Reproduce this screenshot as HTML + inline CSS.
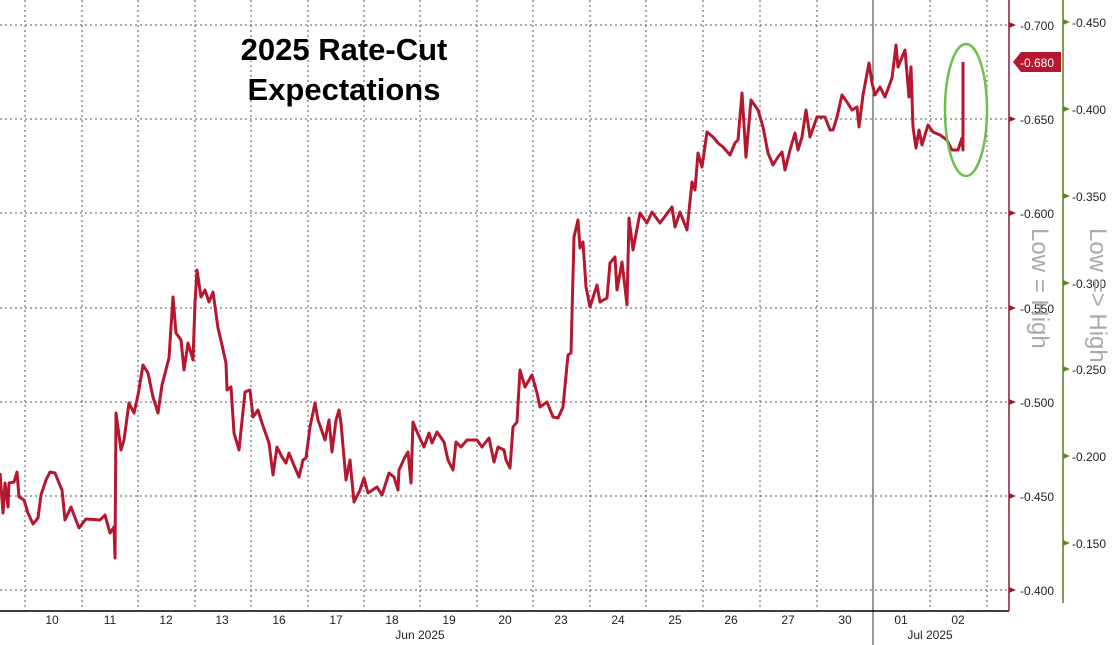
<!DOCTYPE html>
<html><head><meta charset="utf-8"><style>
body{margin:0;background:#fff;}
svg{display:block;font-family:"Liberation Sans",sans-serif;}
</style></head><body>
<svg width="1114" height="645" viewBox="0 0 1114 645" xmlns="http://www.w3.org/2000/svg">
<rect width="1114" height="645" fill="#fff"/>
<g stroke="#555" stroke-width="1" stroke-dasharray="2,3">
<line x1="0" y1="25" x2="1008" y2="25"/><line x1="0" y1="119" x2="1008" y2="119"/><line x1="0" y1="213" x2="1008" y2="213"/><line x1="0" y1="308" x2="1008" y2="308"/><line x1="0" y1="402" x2="1008" y2="402"/><line x1="0" y1="496" x2="1008" y2="496"/><line x1="0" y1="590" x2="1008" y2="590"/>
<line x1="25" y1="0" x2="25" y2="611"/><line x1="82" y1="0" x2="82" y2="611"/><line x1="138" y1="0" x2="138" y2="611"/><line x1="195" y1="0" x2="195" y2="611"/><line x1="251" y1="0" x2="251" y2="611"/><line x1="308" y1="0" x2="308" y2="611"/><line x1="364" y1="0" x2="364" y2="611"/><line x1="420" y1="0" x2="420" y2="611"/><line x1="477" y1="0" x2="477" y2="611"/><line x1="533" y1="0" x2="533" y2="611"/><line x1="590" y1="0" x2="590" y2="611"/><line x1="646" y1="0" x2="646" y2="611"/><line x1="703" y1="0" x2="703" y2="611"/><line x1="760" y1="0" x2="760" y2="611"/><line x1="817" y1="0" x2="817" y2="611"/><line x1="930" y1="0" x2="930" y2="611"/><line x1="987" y1="0" x2="987" y2="611"/>
</g>
<line x1="873" y1="0" x2="873" y2="645" stroke="#333" stroke-width="1"/>
<line x1="0" y1="611" x2="1009" y2="611" stroke="#000" stroke-width="1.5"/>
<line x1="1009" y1="0" x2="1009" y2="611" stroke="#8a1c33" stroke-width="1.5"/>
<line x1="1063" y1="0" x2="1063" y2="603" stroke="#5a7a1a" stroke-width="1.5"/>
<polyline fill="none" stroke="#b5172f" stroke-width="3" stroke-linejoin="round" points="0,473 3,513 5,483 8,507 9,483 14,482 17,472 19,497 24,500 28,513 33,524 38,518 41,495 46,480 50,472 55,473 59,483 62,490 65,520 71,507 74,515 79,528 86,519 100,520 105,515 110,533 114,527 115,558 116,413 121,450 124,440 129,403 134,413 138,395 143,365 148,373 153,397 158,413 162,385 169,358 173,297 176,333 181,340 184,370 188,343 193,360 195,303 197,270 201,297 205,290 209,302 213,292 218,328 222,345 226,363 227,390 231,387 234,433 239,450 245,392 250,390 253,417 258,410 262,423 269,443 273,475 277,447 282,457 286,463 289,453 293,463 299,477 303,460 306,458 310,427 315,403 318,420 325,440 329,420 332,452 336,420 339,410 341,423 346,480 350,460 354,502 360,490 364,478 368,493 377,487 382,495 389,473 394,477 398,490 399,470 405,457 408,452 411,483 413,422 417,432 424,447 429,433 432,443 437,432 444,442 448,460 453,470 456,442 461,447 467,440 477,440 482,447 489,438 494,462 498,447 504,450 506,460 510,468 513,427 517,422 520,370 525,387 532,375 537,393 540,407 547,402 553,417 558,418 563,407 568,355 571,353 574,237 578,220 580,248 583,242 586,287 590,307 597,285 600,302 607,298 610,263 615,257 617,290 622,262 627,305 629,218 633,250 640,213 647,223 652,212 660,223 672,207 675,227 680,212 687,230 692,182 695,190 698,153 702,167 707,132 713,137 718,143 723,147 730,155 735,143 738,140 742,93 746,157 751,100 758,110 763,127 768,153 773,165 778,157 782,152 785,170 790,150 795,133 798,150 802,137 806,110 810,137 817,117 825,117 830,130 833,130 837,117 842,95 847,102 852,110 857,107 859,127 863,95 869,63 872,83 875,95 880,87 885,97 892,78 896,45 898,67 905,50 909,97 911,67 913,127 916,148 919,130 922,145 928,125 933,132 940,135 947,140 952,150 958,150 962,138 963,150 963,62"/>
<ellipse cx="966" cy="110" rx="21" ry="66" fill="none" stroke="#6cbf4a" stroke-width="2.5"/>
<g font-weight="bold" font-size="31" fill="#000" text-anchor="middle">
<text x="344" y="60">2025 Rate-Cut</text><text x="344" y="100">Expectations</text></g>
<g font-size="12" fill="#222">
<text x="1020" y="30">-0.700</text><text x="1020" y="124">-0.650</text><text x="1020" y="218">-0.600</text><text x="1020" y="313">-0.550</text><text x="1020" y="407">-0.500</text><text x="1020" y="501">-0.450</text><text x="1020" y="595">-0.400</text>
<text x="1072" y="27">-0.450</text><text x="1072" y="114">-0.400</text><text x="1072" y="201">-0.350</text><text x="1072" y="288">-0.300</text><text x="1072" y="374">-0.250</text><text x="1072" y="461">-0.200</text><text x="1072" y="548">-0.150</text>
</g>
<g fill="#a01830"><path d="M1009,22 l7,3 l-7,3z"/><path d="M1009,116 l7,3 l-7,3z"/><path d="M1009,210 l7,3 l-7,3z"/><path d="M1009,305 l7,3 l-7,3z"/><path d="M1009,399 l7,3 l-7,3z"/><path d="M1009,493 l7,3 l-7,3z"/><path d="M1009,587 l7,3 l-7,3z"/></g>
<g fill="#5a8a1a"><path d="M1063,19 l7,3 l-7,3z"/><path d="M1063,106 l7,3 l-7,3z"/><path d="M1063,193 l7,3 l-7,3z"/><path d="M1063,280 l7,3 l-7,3z"/><path d="M1063,366 l7,3 l-7,3z"/><path d="M1063,453 l7,3 l-7,3z"/><path d="M1063,540 l7,3 l-7,3z"/></g>
<path d="M1013,62 l8,-10 h40 v20 h-40z" fill="#b5172f"/>
<text x="1020" y="67" font-size="12" fill="#fff">-0.680</text>
<g font-size="24" fill="#aaa"><text transform="translate(1032,228) rotate(90)">Low = High</text><text transform="translate(1090,228) rotate(90)">Low =&gt; High</text></g>
<g font-size="12" fill="#222" text-anchor="middle">
<text x="52" y="624">10</text><text x="110" y="624">11</text><text x="166" y="624">12</text><text x="222" y="624">13</text><text x="279" y="624">16</text><text x="336" y="624">17</text><text x="392" y="624">18</text><text x="449" y="624">19</text><text x="505" y="624">20</text><text x="561" y="624">23</text><text x="618" y="624">24</text><text x="675" y="624">25</text><text x="731" y="624">26</text><text x="788" y="624">27</text><text x="845" y="624">30</text><text x="901" y="624">01</text><text x="958" y="624">02</text>
<text x="420" y="639">Jun 2025</text><text x="930" y="639">Jul 2025</text></g>
</svg>
</body></html>
